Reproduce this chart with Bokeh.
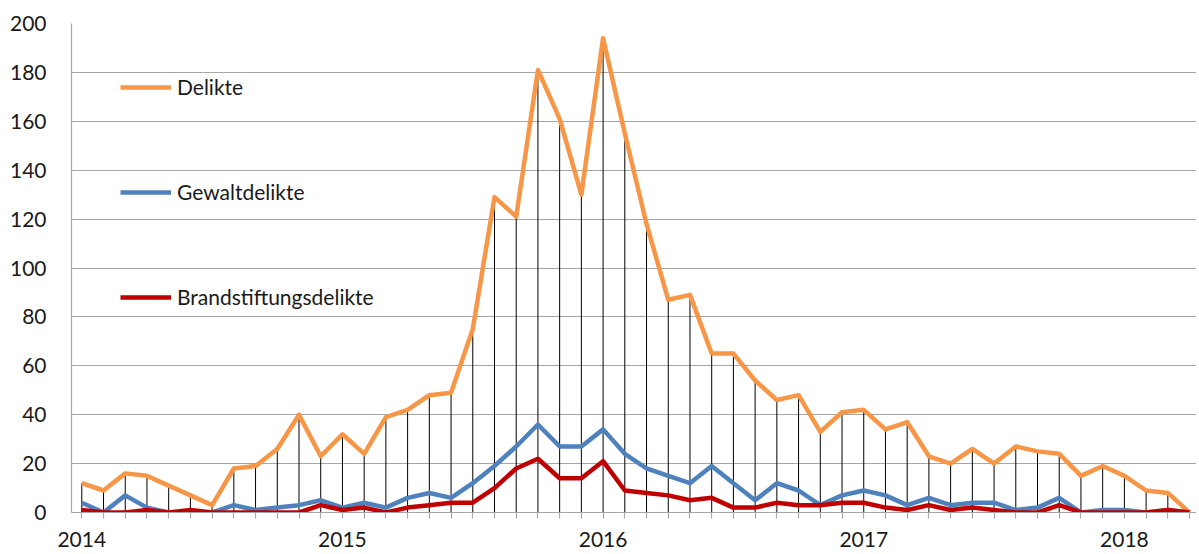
from bokeh.plotting import figure
from bokeh.models import FixedTicker, Legend, LegendItem, Range1d
from bokeh.embed import file_html
from bokeh.resources import INLINE

# Monthly values, Jan 2014 .. Apr 2018
months = list(range(52))
delikte = [12, 9, 16, 15, 11, 7, 3, 18, 19, 26, 40, 23,
           32, 24, 39, 42, 48, 49, 75, 129, 121, 181, 161, 130,
           194, 155, 118, 87, 89, 65, 65, 54, 46, 48, 33, 41,
           42, 34, 37, 23, 20, 26, 20, 27, 25, 24, 15, 19,
           15, 9, 8, 0]
gewalt = [4, 0, 7, 2, 0, 0, 0, 3, 1, 2, 3, 5,
          2, 4, 2, 6, 8, 6, 12, 19, 27, 36, 27, 27,
          34, 24, 18, 15, 12, 19, 12, 5, 12, 9, 3, 7,
          9, 7, 3, 6, 3, 4, 4, 1, 2, 6, 0, 1,
          1, 0, 1, 0]
brand = [1, 0, 0, 1, 0, 1, 0, 0, 0, 0, 0, 3,
         1, 2, 0, 2, 3, 4, 4, 10, 18, 22, 14, 14,
         21, 9, 8, 7, 5, 6, 2, 2, 4, 3, 3, 4,
         4, 2, 1, 3, 1, 2, 1, 0, 0, 3, 0, 0,
         0, 0, 1, 0]
year_ticks = [0, 12, 24, 36, 48]
year_labels = ["2014", "2015", "2016", "2017", "2018"]
y_ticks = list(range(0, 201, 20))
series_names = ["Delikte", "Gewaltdelikte", "Brandstiftungsdelikte"]
series_colors = ["#F79646", "#4F81BD", "#C00000"]

FONT = "Lato"
TEXT = "#1A1A1A"
GRID = "#A6A6A6"

p = figure(width=1196, height=554, output_backend="svg", toolbar_location=None,
           x_range=Range1d(-0.474, 51.32), y_range=Range1d(0, 200),
           min_border_left=71, min_border_right=0, min_border_top=23,
           min_border_bottom=42)
p.outline_line_color = None
p.background_fill_color = "white"

p.xgrid.visible = False
p.ygrid.ticker = FixedTicker(ticks=y_ticks)
p.ygrid.grid_line_color = GRID
p.ygrid.grid_line_width = 1.2

p.yaxis.ticker = FixedTicker(ticks=y_ticks)
p.yaxis.major_tick_out = 0
p.yaxis.major_tick_in = 0
p.yaxis.major_tick_line_color = None
p.yaxis.minor_tick_line_color = None
p.yaxis.axis_line_color = GRID
p.yaxis.axis_line_width = 1.2
p.yaxis.major_label_standoff = 25
p.yaxis.major_label_text_font = FONT
p.yaxis.major_label_text_font_size = "21px"
p.yaxis.major_label_text_color = TEXT

overrides = {m: "" for m in months}
for t, lab in zip(year_ticks, year_labels):
    overrides[t] = lab
p.xaxis.ticker = FixedTicker(ticks=months)
p.xaxis.major_label_overrides = overrides
p.xaxis.major_tick_in = 0
p.xaxis.major_tick_out = 6
p.xaxis.major_tick_line_color = GRID
p.xaxis.major_tick_line_width = 1.2
p.xaxis.minor_tick_line_color = None
p.xaxis.axis_line_color = GRID
p.xaxis.axis_line_width = 1.2
p.xaxis.major_label_standoff = 13
p.xaxis.major_label_text_font = FONT
p.xaxis.major_label_text_font_size = "21px"
p.xaxis.major_label_text_color = TEXT

# drop lines
p.segment(x0=months, y0=0, x1=months, y1=delikte, line_color="black", line_width=1)

renderers = []
for vals, col in zip([delikte, gewalt, brand], series_colors):
    r = p.line(months, vals, line_color=col, line_width=4.5, line_join="round")
    renderers.append(r)

legend = Legend(items=[LegendItem(label=n, renderers=[r]) for n, r in zip(series_names, renderers)],
                location=(49, 203), orientation="vertical", spacing=80,
                glyph_width=51, glyph_height=24, label_height=24, label_standoff=6,
                padding=0, margin=0, border_line_alpha=0, background_fill_alpha=0,
                label_text_font=FONT, label_text_font_size="21px",
                label_text_color=TEXT, label_text_baseline="middle")
p.add_layout(legend)

open("out.html", "w").write(file_html(p, INLINE))
